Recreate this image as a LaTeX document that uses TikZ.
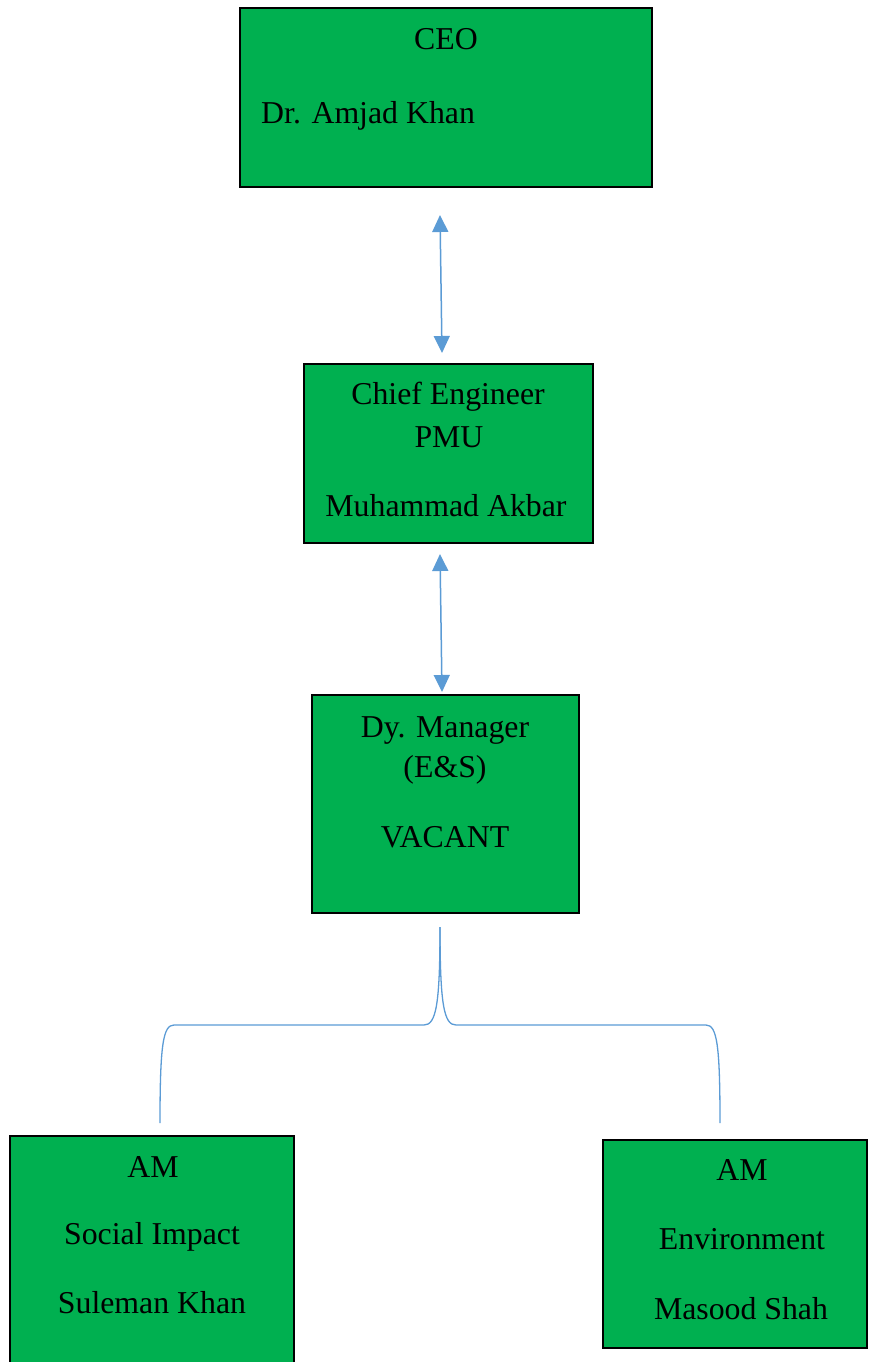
\documentclass[tikz,border=0pt]{standalone}
\usepackage{fontspec}
\setmainfont{Liberation Serif}
\usetikzlibrary{arrows.meta}
\definecolor{boxgreen}{HTML}{00B050}
\definecolor{linkblue}{HTML}{5B9BD5}
\begin{document}
\begin{tikzpicture}[x=1pt,y=-1pt,
  orgbox/.style={draw=black,line width=2.5pt,fill=boxgreen},
  lbl/.style={anchor=base,inner sep=0pt,font=\fontsize{31.8}{38}\selectfont},
  link/.style={draw=linkblue,line width=1.5pt,{Triangle[length=17pt,width=16pt]}-{Triangle[length=17pt,width=16pt]}},
  brace/.style={draw=linkblue,line width=1.3pt}]
\useasboundingbox (0,0) rectangle (869,1362);
% boxes
\draw[orgbox] (240,8) rectangle (652,187);
\draw[orgbox] (304,364) rectangle (593,543);
\draw[orgbox] (312,695) rectangle (579,913);
\draw[orgbox] (10,1136) rectangle (294,1375);
\draw[orgbox] (603,1140) rectangle (867,1348);
% texts
\node[lbl] (ceo) at (446,50) {CEO};
\node[lbl,anchor=base west] (ceoname) at (261,124) {Dr. Amjad Khan};
\node[lbl] (ce1) at (448,404) {Chief Engineer};
\node[lbl] (ce2) at (449,447) {PMU};
\node[lbl] (ce3) at (446,516) {Muhammad Akbar};
\node[lbl] (dm1) at (445,737) {Dy. Manager};
\node[lbl] (dm2) at (445,777) {(E\&S)};
\node[lbl] (dm3) at (445,847) {VACANT};
\node[lbl] (s1) at (153,1177) {AM};
\node[lbl] (s2) at (152,1244) {Social Impact};
\node[lbl] (s3) at (152,1313) {Suleman Khan};
\node[lbl] (e1) at (742,1180) {AM};
\node[lbl] (e2) at (742,1249) {Environment};
\node[lbl] (e3) at (741,1319) {Masood Shah};
% connectors
\coordinate (a1top) at (440,215);
\coordinate (a1bot) at (442,353);
\coordinate (a2top) at (440,554);
\coordinate (a2bot) at (442,692);
\draw[link] (a1top) -- (a1bot);
\draw[link] (a2top) -- (a2bot);
\coordinate (stem) at (440,927);
\coordinate (lend) at (160,1123);
\coordinate (rend) at (720,1123);
\draw[brace] (stem) .. controls (440,1005) and (436,1025) .. (424,1025)
  -- (174,1025) .. controls (163,1025) and (160,1045) .. (lend);
\draw[brace] (stem) .. controls (440,1005) and (444,1025) .. (456,1025)
  -- (706,1025) .. controls (717,1025) and (720,1045) .. (rend);
\end{tikzpicture}
\end{document}
